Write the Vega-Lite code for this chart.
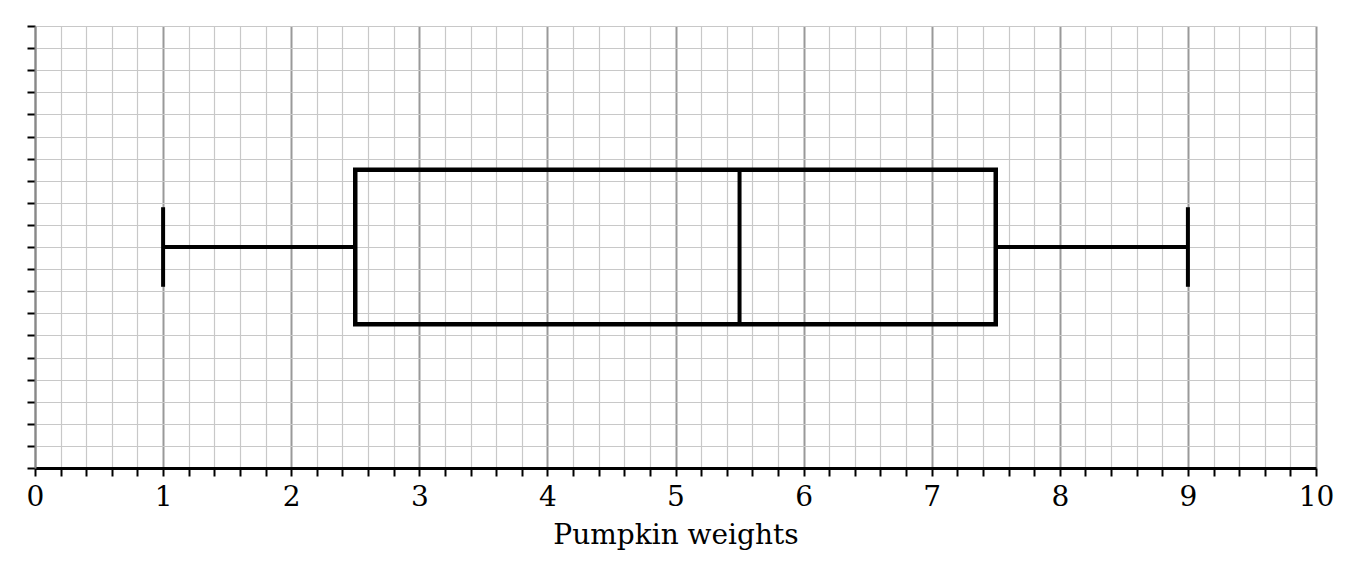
{
  "$schema": "https://vega.github.io/schema/vega-lite/v6.json",
  "width": 1281,
  "height": 442,
  "autosize": {"type": "none"},
  "padding": {"left": 35, "top": 26, "right": 44, "bottom": 110},
  "background": "white",
  "view": {"stroke": null},
  "data": {"values": [{"min": 1, "q1": 2.5, "median": 5.5, "q3": 7.5, "max": 9}]},
  "layer": [
    {
      "mark": {"type": "rule", "color": "black", "strokeWidth": 4},
      "encoding": {
        "x": {
          "field": "min", "type": "quantitative",
          "scale": {"domain": [0, 10], "nice": false, "zero": false},
          "title": "Pumpkin weights",
          "axis": {
            "tickCount": 50,
            "labelExpr": "datum.value % 1 === 0 ? format(datum.value, 'd') : ''",
            "labelOverlap": false, "labelFlush": false, "labelBound": false,
            "labelFont": "DejaVu Serif", "labelFontSize": 28, "labelColor": "black", "labelPadding": 7,
            "titleFont": "DejaVu Serif", "titleFontSize": 28, "titleFontWeight": "normal", "titleColor": "black", "titlePadding": 10,
            "domainColor": "black", "domainWidth": 3,
            "tickColor": "black", "tickWidth": 2, "tickSize": 8,
            "grid": true,
            "gridColor": {"condition": {"test": "datum.value % 1 === 0", "value": "#999999"}, "value": "#c8c8c8"},
            "gridWidth": {"condition": {"test": "datum.value % 1 === 0", "value": 2}, "value": 1.2}
          }
        },
        "x2": {"field": "q1"},
        "y": {
          "datum": 10, "type": "quantitative",
          "scale": {"domain": [0, 20], "nice": false, "zero": false},
          "axis": {
            "tickCount": 20, "labels": false, "title": null,
            "domainColor": "#888888", "domainWidth": 2,
            "tickColor": "black", "tickWidth": 2, "tickSize": 8,
            "grid": true, "gridColor": "#c8c8c8", "gridWidth": 1.2
          }
        }
      }
    },
    {
      "mark": {"type": "rule", "color": "black", "strokeWidth": 4},
      "encoding": {
        "x": {"field": "q3", "type": "quantitative", "title": "Pumpkin weights"},
        "x2": {"field": "max"},
        "y": {"datum": 10, "type": "quantitative"}
      }
    },
    {
      "mark": {"type": "rect", "fill": "white", "fillOpacity": 0, "stroke": "black", "strokeWidth": 4.5},
      "encoding": {
        "x": {"field": "q1", "type": "quantitative", "title": "Pumpkin weights"},
        "x2": {"field": "q3"},
        "y": {"datum": 6.5, "type": "quantitative"},
        "y2": {"datum": 13.5}
      }
    },
    {
      "mark": {"type": "rule", "color": "black", "strokeWidth": 4},
      "encoding": {
        "x": {"field": "median", "type": "quantitative", "title": "Pumpkin weights"},
        "y": {"datum": 6.5, "type": "quantitative"},
        "y2": {"datum": 13.5}
      }
    },
    {
      "mark": {"type": "rule", "color": "black", "strokeWidth": 4},
      "encoding": {
        "x": {"field": "min", "type": "quantitative", "title": "Pumpkin weights"},
        "y": {"datum": 8.2, "type": "quantitative"},
        "y2": {"datum": 11.8}
      }
    },
    {
      "mark": {"type": "rule", "color": "black", "strokeWidth": 4},
      "encoding": {
        "x": {"field": "max", "type": "quantitative", "title": "Pumpkin weights"},
        "y": {"datum": 8.2, "type": "quantitative"},
        "y2": {"datum": 11.8}
      }
    }
  ]
}
